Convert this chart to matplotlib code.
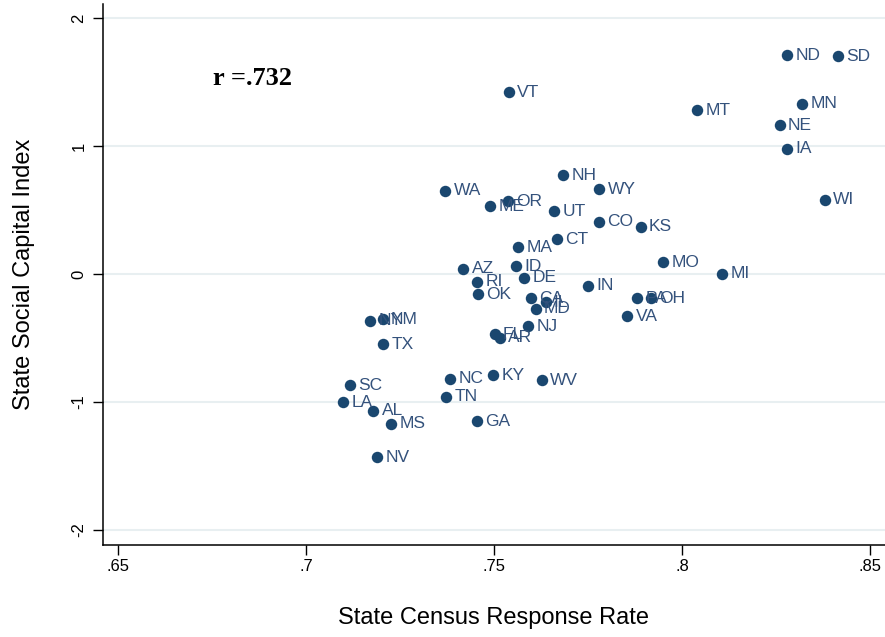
import matplotlib
matplotlib.use("Agg")
import matplotlib.pyplot as plt

states = ["ND", "SD", "VT", "MT", "MN", "NE", "IA", "WI", "NH", "WY",
          "WA", "OR", "ME", "UT", "CO", "KS", "CT", "MA", "MO", "MI",
          "AZ", "ID", "DE", "RI", "IN", "OK", "CA", "IL", "MD", "PA",
          "OH", "VA", "NJ", "FL", "AR", "NY", "NM", "TX", "NC", "KY",
          "WV", "SC", "LA", "TN", "AL", "MS", "GA", "NV"]
response_rate = [0.828, 0.8415, 0.754, 0.804, 0.832, 0.826, 0.828, 0.838, 0.7684, 0.778,
                 0.737, 0.7537, 0.749, 0.766, 0.778, 0.789, 0.7668, 0.7564, 0.795, 0.8106,
                 0.7418, 0.7559, 0.758, 0.7455, 0.775, 0.7457, 0.7598, 0.7637, 0.7611, 0.788,
                 0.7918, 0.7854, 0.759, 0.7502, 0.7516, 0.717, 0.7204, 0.7206, 0.7383, 0.7498,
                 0.7627, 0.7117, 0.7098, 0.7372, 0.7179, 0.7226, 0.7454, 0.719]
social_capital = [1.71, 1.70, 1.42, 1.28, 1.33, 1.16, 0.98, 0.58, 0.77, 0.66,
                  0.65, 0.57, 0.53, 0.49, 0.41, 0.37, 0.27, 0.21, 0.09, 0.0,
                  0.04, 0.06, -0.03, -0.06, -0.09, -0.16, -0.19, -0.22, -0.27, -0.19,
                  -0.19, -0.33, -0.41, -0.47, -0.50, -0.365, -0.355, -0.55, -0.82, -0.79,
                  -0.83, -0.87, -1.0, -0.96, -1.07, -1.17, -1.15, -1.43]
x_ticks = [0.65, 0.70, 0.75, 0.80, 0.85]
x_tick_labels = [".65", ".7", ".75", ".8", ".85"]
y_ticks = [-2, -1, 0, 1, 2]
y_tick_labels = ["-2", "-1", "0", "1", "2"]

dot_color = "#1a476f"
label_color = "#34527c"
grid_color = "#e8eff1"

fig = plt.figure(figsize=(8.85, 6.37), dpi=100)
ax = fig.add_axes([103 / 885, 92 / 637, 782 / 885, 541 / 637])

ax.scatter(response_rate, social_capital, s=68, color=dot_color, zorder=3,
           linewidths=0)
for st, xv, yv in zip(states, response_rate, social_capital):
    ax.annotate(st, (xv, yv), xytext=(6, 0), textcoords="offset points",
                va="center", ha="left", fontsize=12.5, color=label_color,
                family="Liberation Sans", zorder=4)

ax.set_xlim(0.646, 0.854)
ax.set_ylim(-2.117, 2.109)
ax.set_xticks(x_ticks)
ax.set_xticklabels(x_tick_labels, family="Liberation Sans", fontsize=12)
ax.set_yticks(y_ticks)
ax.set_yticklabels(y_tick_labels, rotation=90, va="center",
                   family="Liberation Sans", fontsize=12)
ax.tick_params(axis="both", length=7, width=1, color="black", pad=5)
ax.tick_params(axis="x", pad=3)

for yv in y_ticks:
    ax.axhline(yv, color=grid_color, lw=1.5, zorder=1)

for s in ["top", "right"]:
    ax.spines[s].set_visible(False)
for s in ["left", "bottom"]:
    ax.spines[s].set_linewidth(1.1)

ax.set_xlabel("State Census Response Rate", family="Liberation Sans",
              fontsize=17, labelpad=24)
ax.set_ylabel("State Social Capital Index", family="Liberation Sans",
              fontsize=17, labelpad=26)

ax.text(0.6753, 1.53, "r =.732", family="Liberation Serif", fontweight="bold",
        fontsize=19, va="center", ha="left")

fig.savefig("out.png", dpi=100)
